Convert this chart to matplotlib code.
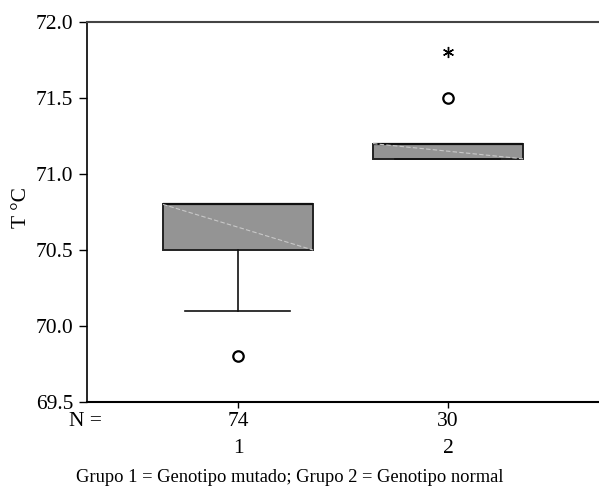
import matplotlib
matplotlib.use("Agg")
import matplotlib.pyplot as plt
from matplotlib.transforms import blended_transform_factory, offset_copy

plt.rcParams['font.family'] = ['Liberation Serif', 'DejaVu Serif']

groups = ["1", "2"]
counts = [74, 30]
q1 = [70.5, 71.1]
q3 = [70.8, 71.2]
med = [70.8, 71.2]
whislo = [70.1, 71.1]
whishi = [70.8, 71.2]
outliers = [[69.8], [71.5]]
extremes = [[], [71.8]]
yticks = [69.5, 70.0, 70.5, 71.0, 71.5, 72.0]

fig = plt.figure(figsize=(5.99, 4.88), dpi=100)
ax = fig.add_axes([87/599, 1-402/488, 1-87/599, (402-22)/488])

positions = [1, 2]
stats = []
for i in range(2):
    stats.append(dict(med=med[i], q1=q1[i], q3=q3[i], whislo=whislo[i], whishi=whishi[i], fliers=[]))

ax.bxp(stats, positions=positions, widths=0.714, patch_artist=True, showfliers=False,
       boxprops=dict(facecolor="#949494", edgecolor="#222222", linewidth=1.4),
       medianprops=dict(color="#111111", linewidth=1.6),
       whiskerprops=dict(color="#111111", linewidth=1.2),
       capprops=dict(color="#111111", linewidth=1.2), capwidths=0.5)

# faint diagonal artifact in boxes
for i, p in enumerate(positions):
    ax.plot([p-0.357, p+0.357], [q3[i], q1[i]], color="#c8c8c8", lw=0.8, ls=(0, (4, 2)), zorder=3)

for i, p in enumerate(positions):
    for v in outliers[i]:
        ax.plot(p, v, marker='o', ms=7.5, mfc='white', mec='black', mew=1.6, ls='none', zorder=4)
    for v in extremes[i]:
        ax.plot(p, v, marker=(6, 2, 0), ms=8, color='black', mew=1.0, ls='none', zorder=4)

ax.set_xlim(1-151/210, 2+151/210)
ax.set_ylim(69.5, 72.0)
ax.set_yticks(yticks)
ax.set_yticklabels([f"{t:.1f}" for t in yticks], fontsize=15.5)
ax.set_xticks(positions)
ax.set_xticklabels([])
ax.tick_params(axis='y', direction='out', length=6, width=1, pad=4)
ax.tick_params(axis='x', direction='out', length=4, width=1)
ax.spines['right'].set_visible(False)
ax.spines['top'].set_color('#444444')
ax.spines['top'].set_linewidth(1.5)
ax.spines['left'].set_linewidth(1.2)
ax.spines['bottom'].set_linewidth(1.5)

trans = blended_transform_factory(ax.transData, fig.transFigure)
for p, c, g in zip(positions, counts, groups):
    ax.text(p, 1-419/488, str(c), transform=trans, ha='center', va='center_baseline', fontsize=15.5)
    ax.text(p, 1-446/488, g, transform=trans, ha='center', va='center_baseline', fontsize=15.5)
fig.text(102/599, 1-419/488, "N =", ha='right', va='center_baseline', fontsize=15.5)

fig.text(21/599, 1-207/488, "T °C", rotation=90, ha='center', va='center', fontsize=15.5)
fig.text(289.5/599, 1-478/488, "Grupo 1 = Genotipo mutado; Grupo 2 = Genotipo normal",
         ha='center', va='center', fontsize=13.3)

fig.savefig("out.png", dpi=100)
